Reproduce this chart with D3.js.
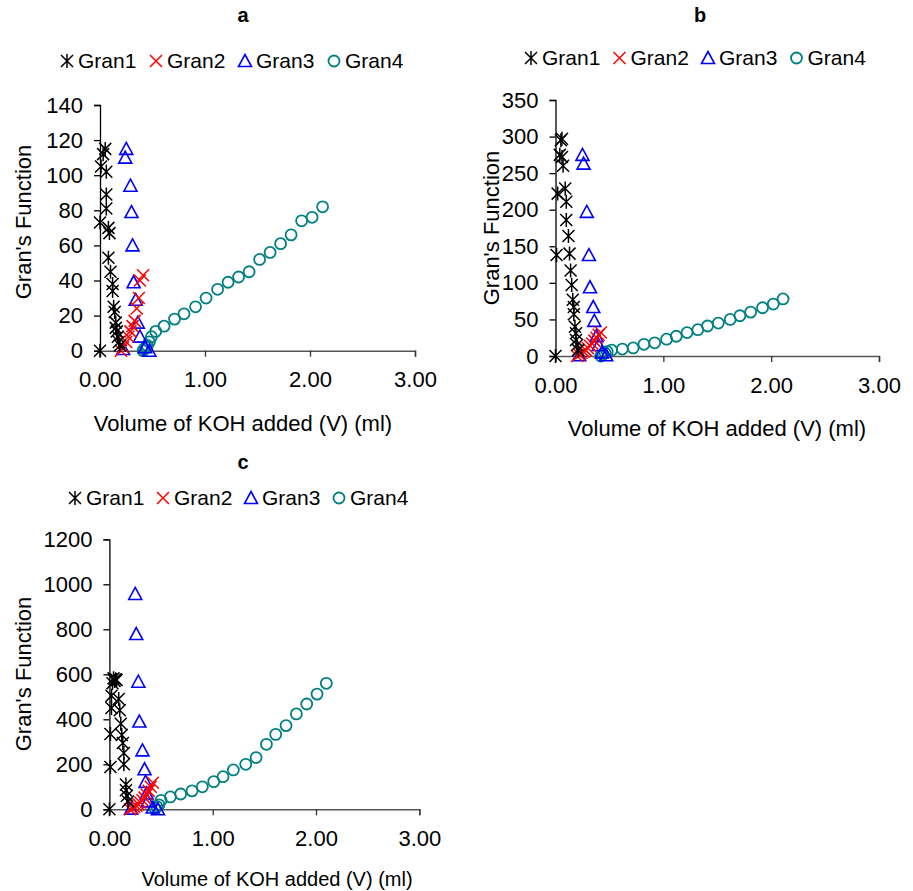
<!DOCTYPE html>
<html>
<head>
<meta charset="utf-8">
<script src="https://cdn.jsdelivr.net/npm/d3@7"></script>
<style>
  body { margin: 0; background: #fff; }
  svg { display: block; font-family: "Liberation Sans", Arial, sans-serif; }
</style>
</head>
<body>
<svg id="chart" width="913" height="891"></svg>
<script>
// series names + colours
const seriesNames = ["Gran1", "Gran2", "Gran3", "Gran4"];
const seriesColors = ["#000000", "#ff0000", "#0000ff", "#008080"];
const xTicks = [0, 1, 2, 3];

// panel a  [volume (ml), Gran's function]
const aGran1 = [[0.00,0],[0.00,73],[0.01,105],[0.03,112],[0.05,115],[0.06,102],[0.06,89],[0.06,81],
  [0.08,70],[0.09,67],[0.08,53],[0.10,45],[0.12,38],[0.12,34],[0.13,25],[0.14,22],[0.15,16],
  [0.15,13],[0.16,11],[0.17,8],[0.18,5],[0.19,3]];
const aGran2 = [[0.41,43],[0.38,40],[0.37,30],[0.35,24],[0.33,17],[0.31,14],[0.29,11],[0.27,8],
  [0.25,5],[0.22,2],[0.20,0]];
const aGran3 = [[0.22,1],[0.24,110],[0.25,115],[0.29,94],[0.30,79],[0.31,60],[0.32,39],[0.34,29],
  [0.36,16],[0.38,8],[0.43,2],[0.47,0]];
const aGran4 = [[0.41,0],[0.42,1],[0.44,2],[0.45,3],[0.47,5],[0.49,8],[0.53,11],[0.61,14],[0.71,18],
  [0.80,21],[0.91,25],[1.01,30],[1.12,35],[1.22,39],[1.32,42],[1.42,45],[1.52,52],[1.62,56],
  [1.72,61],[1.82,66],[1.92,74],[2.02,76],[2.12,82]];

// panel b
const bGran1 = [[0.00,0],[0.05,295],[0.06,297],[0.04,275],[0.06,272],[0.07,260],[0.02,222],[0.09,229],
  [0.10,211],[0.10,186],[0.12,164],[0.13,140],[0.01,138],[0.14,117],[0.15,97],[0.16,77],[0.17,67],
  [0.17,57],[0.18,40],[0.19,31],[0.19,22],[0.20,15],[0.21,8]];
const bGran2 = [[0.20,0],[0.22,2],[0.24,4],[0.26,6],[0.28,8],[0.30,11],[0.32,14],[0.34,17],
  [0.36,21],[0.38,25],[0.40,29],[0.42,32]];
const bGran3 = [[0.22,1],[0.25,275],[0.26,263],[0.29,197],[0.31,138],[0.32,94],[0.35,67],[0.36,48],
  [0.38,27],[0.40,15],[0.43,5],[0.47,1]];
const bGran4 = [[0.42,0],[0.44,2],[0.46,4],[0.48,6],[0.52,8],[0.62,9.5],[0.72,11],[0.82,16],[0.92,18],
  [1.03,23],[1.12,27],[1.22,32],[1.32,36],[1.41,41],[1.51,45],[1.62,50],[1.71,55],[1.81,60],
  [1.92,66],[2.02,71],[2.11,78]];

// panel c
const cGran1 = [[0.00,0],[0.01,188],[0.01,335],[0.02,450],[0.02,505],[0.03,560],[0.04,582],[0.05,570],
  [0.06,578],[0.07,575],[0.09,490],[0.10,440],[0.11,380],[0.12,330],[0.13,295],[0.14,250],
  [0.14,200],[0.16,110],[0.16,85],[0.17,60],[0.18,35]];
const cGran2 = [[0.20,0],[0.22,5],[0.24,10],[0.26,16],[0.28,22],[0.30,30],[0.32,40],[0.34,52],
  [0.36,66],[0.38,82],[0.40,100],[0.42,118]];
const cGran3 = [[0.21,3],[0.25,957],[0.26,779],[0.28,567],[0.29,390],[0.32,262],[0.34,178],[0.35,122],
  [0.36,70],[0.37,35],[0.42,8],[0.47,0]];
const cGran4 = [[0.44,5],[0.46,12],[0.48,20],[0.50,40],[0.59,55],[0.69,68],[0.80,82],[0.90,100],
  [1.01,123],[1.10,145],[1.20,175],[1.32,200],[1.42,230],[1.52,289],[1.61,333],[1.71,372],
  [1.81,424],[1.91,468],[2.01,512],[2.10,560]];

const svg = d3.select("#chart");

// marker shapes, drawn round (0,0)
function markerPath(i) {
  if (i === 0) return "M0,-7V7M-6,-6L6,6M-6,6L6,-6";        // star
  if (i === 1) return "M-6,-6L6,6M-6,6L6,-6";                // x
  if (i === 2) return "M0,-6.5L6.5,5.5H-6.5Z";               // triangle
  return null;
}

function addMarker(g, i, x, y) {
  if (i === 3) {
    g.append("circle").attr("cx", x).attr("cy", y).attr("r", 5.5)
      .attr("fill", "none").attr("stroke", seriesColors[i]).attr("stroke-width", 1.8);
  } else {
    g.append("path").attr("d", markerPath(i)).attr("transform", `translate(${x},${y})`)
      .attr("fill", "none").attr("stroke", seriesColors[i])
      .attr("stroke-width", i === 2 ? 1.6 : 1.5);
  }
}

function drawPanel(p) {
  const g = svg.append("g");

  const x = d3.scaleLinear().domain([0, 3]).range([p.x0, p.x3]);
  const y = d3.scaleLinear().domain([0, p.yMax]).range([p.y0, p.yTop]);

  // title
  g.append("text").attr("x", p.titleX).attr("y", p.titleY).attr("text-anchor", "middle")
    .attr("font-weight", "bold").attr("font-size", 20).text(p.title);

  // legend
  seriesNames.forEach((name, i) => {
    const lx = p.legX + i * p.legStep;
    addMarker(g, i, lx, p.legY - 7);
    g.append("text").attr("x", lx + 11).attr("y", p.legY)
      .attr("font-size", p.legFont).text(name);
  });

  // y axis
  const ya = g.append("g").attr("transform", `translate(${x(0)},0)`)
    .call(d3.axisLeft(y).tickValues(d3.range(0, p.yMax + 1, p.yStep))
      .tickFormat(d3.format("d")).tickSize(6).tickPadding(11));
  ya.select(".domain").attr("stroke", "#000").attr("stroke-width", 1.3);
  ya.selectAll(".tick line").attr("stroke", "#000").attr("stroke-width", 1.3);
  ya.selectAll("text").attr("font-size", p.font).attr("fill", "#000").attr("font-family", null);

  // x axis
  const xa = g.append("g").attr("transform", `translate(0,${y(0)})`)
    .call(d3.axisBottom(x).tickValues(xTicks).tickFormat(d3.format(".2f")).tickSize(6).tickPadding(15));
  xa.select(".domain").attr("stroke", "#555").attr("stroke-width", 1.5);
  xa.selectAll(".tick line").attr("stroke", "#333").attr("stroke-width", 1.3);
  xa.selectAll("text").attr("font-size", p.font).attr("fill", "#000").attr("font-family", null);

  // axis titles
  g.append("text").attr("x", p.xLabX).attr("y", p.xLabY).attr("text-anchor", "middle")
    .attr("font-size", p.xLabFont).text("Volume of KOH added (V) (ml)");
  g.append("text").attr("transform", `translate(${p.yLabX},${p.yLabY}) rotate(-90)`)
    .attr("text-anchor", "middle").attr("font-size", p.font).text("Gran's Function");

  // points, Gran4 first so the others sit on top
  const pts = g.append("g");
  [3, 2, 1, 0].forEach(i => {
    p.series[i].forEach(d => addMarker(pts, i, x(d[0]), y(d[1])));
  });
}

drawPanel({
  title: "a", titleX: 243, titleY: 22, font: 22, legFont: 21, xLabFont: 22,
  legX: 67, legY: 68, legStep: 89,
  x0: 100, x3: 415, y0: 350.7, yTop: 105, yMax: 140, yStep: 20,
  xLabX: 243, xLabY: 431, yLabX: 31, yLabY: 222,
  series: [aGran1, aGran2, aGran3, aGran4]
});

drawPanel({
  title: "b", titleX: 700, titleY: 22, font: 22, legFont: 21, xLabFont: 22,
  legX: 531, legY: 65, legStep: 88.5,
  x0: 555.5, x3: 879, y0: 356, yTop: 100, yMax: 350, yStep: 50,
  xLabX: 717, xLabY: 436, yLabX: 499, yLabY: 228,
  series: [bGran1, bGran2, bGran3, bGran4]
});

drawPanel({
  title: "c", titleX: 243, titleY: 469, font: 22, legFont: 21, xLabFont: 20,
  legX: 75, legY: 505, legStep: 88,
  x0: 109.4, x3: 419.3, y0: 809.3, yTop: 539.3, yMax: 1200, yStep: 200,
  xLabX: 277, xLabY: 886, yLabX: 31, yLabY: 674,
  series: [cGran1, cGran2, cGran3, cGran4]
});
</script>
</body>
</html>
